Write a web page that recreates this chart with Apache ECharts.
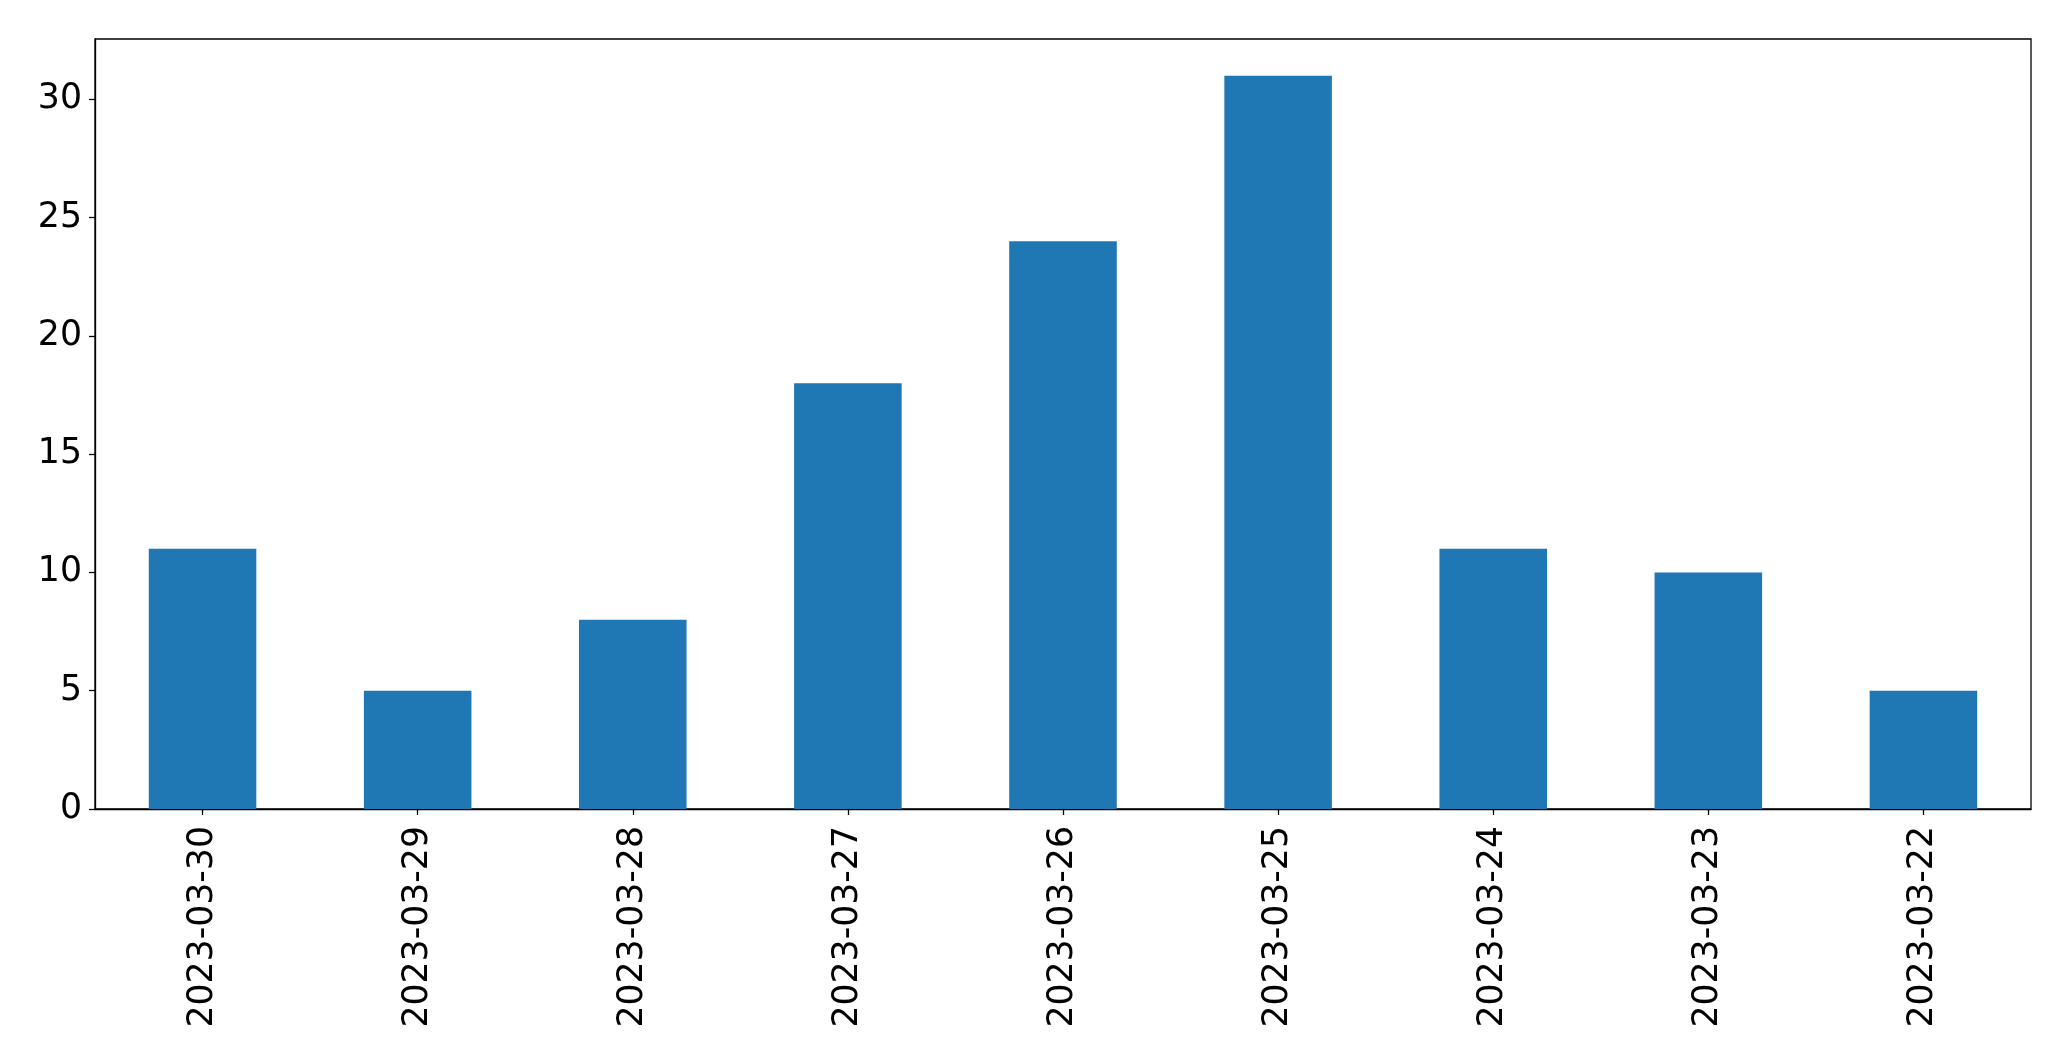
<!DOCTYPE html>
<html>
<head>
<meta charset="utf-8">
<script src="https://cdn.jsdelivr.net/npm/echarts@6/dist/echarts.min.js"></script>
<style>
html,body{margin:0;padding:0;background:#fff;}
#main{width:2071px;height:1061px;}
</style>
</head>
<body>
<div id="main"></div>
<script>
const categories = ["2023-03-30","2023-03-29","2023-03-28","2023-03-27","2023-03-26","2023-03-25","2023-03-24","2023-03-23","2023-03-22"];
const values = [11, 5, 8, 18, 24, 31, 11, 10, 5];
const yMin = 0, yMax = 32.55, yStep = 5;

const chart = echarts.init(document.getElementById('main'), null, {renderer: 'canvas'});
const font = 'DejaVu Sans';
chart.setOption({
  backgroundColor: '#ffffff',
  animation: false,
  grid: {left: 95, top: 39, right: 40, bottom: 252, show: true, borderColor: '#000', borderWidth: 1.3, backgroundColor: 'transparent'},
  xAxis: {
    type: 'category',
    data: categories,
    axisLine: {show: true, lineStyle: {color: '#000', width: 1.3}},
    axisTick: {show: true, alignWithLabel: true, length: 6, lineStyle: {color: '#000', width: 1.3}},
    axisLabel: {rotate: 90, margin: 17, fontSize: 34.7, fontFamily: font, color: '#000', interval: 0},
    splitLine: {show: false}
  },
  yAxis: {
    type: 'value',
    min: yMin, max: yMax, interval: yStep,
    axisLine: {show: true, lineStyle: {color: '#000', width: 1.3}},
    axisTick: {show: true, length: 6, lineStyle: {color: '#000', width: 1.3}},
    axisLabel: {margin: 13, fontSize: 34.7, fontFamily: font, color: '#000', showMaxLabel: false,
      formatter: v => (Math.abs(v / yStep - Math.round(v / yStep)) < 1e-9 ? String(v) : '')},
    splitLine: {show: false}
  },
  series: [{
    type: 'bar',
    data: values,
    barWidth: '50%',
    itemStyle: {color: '#1f77b4'}
  }]
});
</script>
</body>
</html>
